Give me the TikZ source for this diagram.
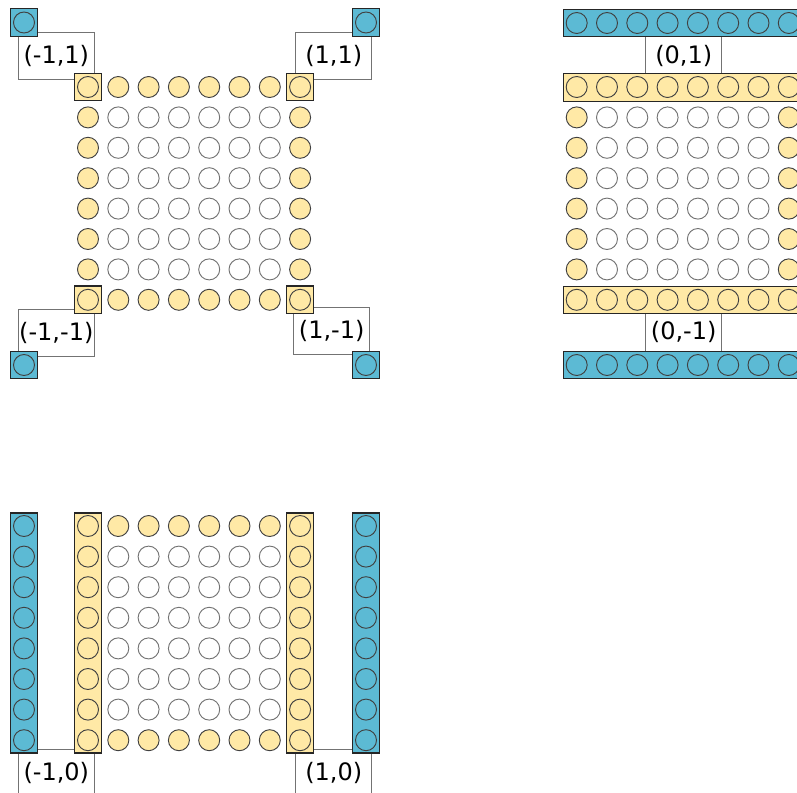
\documentclass[tikz,border=0pt]{standalone}
\usepackage{fontspec}
\setsansfont{DejaVu Sans}
\definecolor{sitey}{HTML}{FFE9A6}
\definecolor{halo}{HTML}{5CBAD4}
\tikzset{
  site/.style={circle, draw=black!75, line width=0.7pt, minimum size=15.75pt, inner sep=0pt},
  edgesite/.style={site, fill=sitey},
  bulksite/.style={site, draw=black!55, fill=white},
  halosite/.style={site, fill=halo},
  cell/.style={draw=black!85, line width=0.9pt, minimum size=20.6pt, inner sep=0pt},
  hbar/.style={cell, minimum width=179.5pt, minimum height=20.6pt},
  vbar/.style={cell, minimum width=20.6pt, minimum height=180pt},
  offset/.style={draw=black!55, line width=0.6pt, minimum width=57pt, minimum height=35.25pt, inner sep=0pt, font=\sffamily\fontsize{18}{18}\selectfont},
}

\begin{document}
\begin{tikzpicture}[x=0.75pt, y=-0.75pt]
  \useasboundingbox (0,0) rectangle (797,793);
  \clip (0,0) rectangle (797,793);
  % offset labels
  \node[offset] (lmm) at (56.3,55.5) {(-1,1)};
  \node[offset] (lpm) at (333.7,55.5) {(1,1)};
  \node[offset] (lmp) at (56.3,332.5) {(-1,-1)};
  \node[offset] (lpp) at (331.7,331) {(1,-1)};
  \node[offset] (lzm) at (683.7,55.5) {(0,1)};
  \node[offset] (lzp) at (683.7,332) {(0,-1)};
  \node[offset] (lmz) at (56.3,772.8) {(-1,0)};
  \node[offset] (lpz) at (333.7,772.8) {(1,0)};

  % corner copies (top left)
  \foreach \x/\y/\n in {24/22.5/a, 366/22.5/b, 24/365/c, 366/365/d}{
    \node[cell, fill=halo] (h\n) at (\x,\y) {};
    \node[halosite] at (h\n) {};
  }
  \foreach \x/\y/\n in {88/87/a, 300.1/87/b, 88/299.8/c, 300.1/299.8/d}{
    \node[cell, fill=sitey] (k\n) at (\x,\y) {};
  }
  \foreach \i in {0,...,7}{
    \foreach \j in {0,...,7}{
      \pgfmathtruncatemacro\isedge{(\i==0||\i==7||\j==0||\j==7)}
      \ifnum\isedge=1
        \node[edgesite] (a-\i-\j) at (88+30.3*\i, 87+30.4*\j) {};
      \else
        \node[bulksite] (a-\i-\j) at (88+30.3*\i, 87+30.4*\j) {};
      \fi
    }
  }

  % rows (top right)
  \node[hbar, fill=halo] (top) at (683,23) {};
  \node[hbar, fill=sitey] (ytop) at (683,87.5) {};
  \node[hbar, fill=sitey] (ybot) at (683,300) {};
  \node[hbar, fill=halo] (bot) at (683,365) {};
  \foreach \i in {0,...,7}{
    \node[halosite] at (576.7+30.3*\i, 23) {};
    \node[halosite] at (576.7+30.3*\i, 365) {};
    \foreach \j in {0,...,7}{
      \pgfmathtruncatemacro\isedge{(\i==0||\i==7||\j==0||\j==7)}
      \ifnum\isedge=1
        \node[edgesite] (b-\i-\j) at (576.7+30.3*\i, 87+30.4*\j) {};
      \else
        \node[bulksite] (b-\i-\j) at (576.7+30.3*\i, 87+30.4*\j) {};
      \fi
    }
  }

  % columns (bottom left)
  \node[vbar, fill=halo] (left) at (24,633) {};
  \node[vbar, fill=sitey] (yleft) at (88,633) {};
  \node[vbar, fill=sitey] (yright) at (300.1,633) {};
  \node[vbar, fill=halo] (right) at (366,633) {};
  \foreach \j in {0,...,7}{
    \node[halosite] at (24, 526+30.6*\j) {};
    \node[halosite] at (366, 526+30.6*\j) {};
    \foreach \i in {0,...,7}{
      \pgfmathtruncatemacro\isedge{(\i==0||\i==7||\j==0||\j==7)}
      \ifnum\isedge=1
        \node[edgesite] (c-\i-\j) at (88+30.3*\i, 526+30.6*\j) {};
      \else
        \node[bulksite] (c-\i-\j) at (88+30.3*\i, 526+30.6*\j) {};
      \fi
    }
  }
\end{tikzpicture}
\end{document}
